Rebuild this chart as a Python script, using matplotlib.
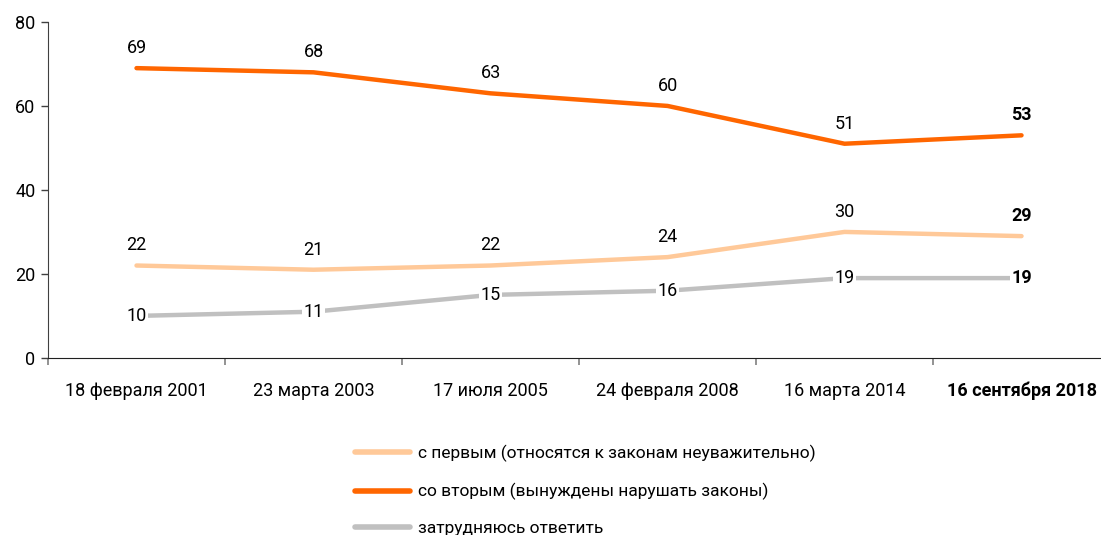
import matplotlib
matplotlib.use("Agg")
import matplotlib.pyplot as plt
from matplotlib.lines import Line2D

plt.rcParams['font.family'] = ['Roboto', 'DejaVu Sans']

categories = ["18 февраля 2001", "23 марта 2003", "17 июля 2005",
              "24 февраля 2008", "16 марта 2014", "16 сентября 2018"]
first = [22, 21, 22, 24, 30, 29]
second = [69, 68, 63, 60, 51, 53]
hard = [10, 11, 15, 16, 19, 19]
legend_labels = ["с первым (относятся к законам неуважительно)",
                 "со вторым (вынуждены нарушать законы)",
                 "затрудняюсь ответить"]
c_first = "#FFC999"
c_second = "#FF6600"
c_hard = "#C0C0C0"

fig = plt.figure(figsize=(11.01, 5.35), dpi=100)
ax = fig.add_axes([0.0436, 0.331, 0.9646, 0.628])
x = list(range(len(categories)))

ax.plot(x, first, color=c_first, lw=3.2, solid_capstyle='round', zorder=2)
ax.plot(x, second, color=c_second, lw=3.2, solid_capstyle='round', zorder=2)
ax.plot(x, hard, color=c_hard, lw=3.2, solid_capstyle='round', zorder=2)

n = len(x)
fs = 13
for i in x:
    w = 'bold' if i == n - 1 else 'normal'
    ax.annotate(str(second[i]), (i, second[i]), xytext=(0, 8), textcoords='offset points',
                ha='center', va='bottom', fontsize=fs, fontweight=w, color='black')
    ax.annotate(str(first[i]), (i, first[i]), xytext=(0, 8), textcoords='offset points',
                ha='center', va='bottom', fontsize=fs, fontweight=w, color='black')
    ax.annotate(str(hard[i]), (i, hard[i]), xytext=(0, 0), textcoords='offset points',
                ha='center', va='center', fontsize=fs, fontweight=w, color='black', zorder=3,
                bbox=dict(boxstyle='square,pad=0.05', fc='white', ec='none'))

ax.set_xlim(-0.5, n - 0.5)
ax.set_ylim(0, 80)
ax.set_yticks([0, 20, 40, 60, 80])
ax.set_xticks([i - 0.5 for i in range(n + 1)])
ax.set_xticklabels([])
ax.set_xticks(x, minor=True)
ax.set_xticklabels(categories, minor=True)
ax.tick_params(axis='x', which='major', length=5, width=1.2, color='#808080', direction='out')
ax.tick_params(axis='x', which='minor', length=0, pad=17, labelsize=fs)
ax.tick_params(axis='y', length=5, width=1, color='#404040', labelsize=fs, pad=4)
for lbl in ax.get_xticklabels(minor=True):
    if lbl.get_text() == categories[-1]:
        lbl.set_fontweight('bold')
for s in ['top', 'right']:
    ax.spines[s].set_visible(False)
ax.spines['left'].set_color('#404040')
ax.spines['bottom'].set_color('#202020')

handles = [Line2D([], [], color=c_first, lw=4, solid_capstyle='round'),
           Line2D([], [], color=c_second, lw=4, solid_capstyle='round'),
           Line2D([], [], color=c_hard, lw=4, solid_capstyle='round')]
fig.legend(handles, legend_labels, loc='upper left', bbox_to_anchor=(0.322, 0.168),
           frameon=False, fontsize=12.5, handlelength=3.2, handletextpad=0.45,
           labelspacing=1.2, borderaxespad=0, borderpad=0)

fig.savefig("out.png", dpi=100)
